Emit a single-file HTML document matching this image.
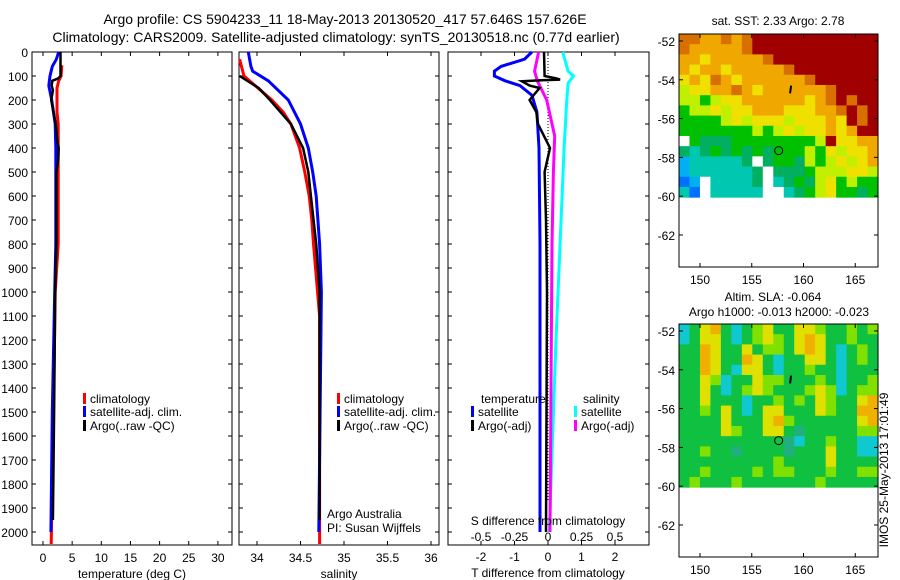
<!DOCTYPE html>
<html><head><meta charset="utf-8">
<style>
html,body{margin:0;padding:0;background:#fff;}
svg{display:block;font-family:"Liberation Sans",sans-serif;}
</style></head>
<body>
<svg id="fig" width="900" height="580" viewBox="0 0 900 580">
<text x="345" y="24" font-size="14" text-anchor="middle">Argo profile: CS 5904233_11 18-May-2013 20130520_417 57.646S 157.626E</text>
<text x="336" y="42" font-size="14" text-anchor="middle">Climatology: CARS2009. Satellite-adjusted climatology: synTS_20130518.nc (0.77d earlier)</text>
<text x="778" y="25" font-size="12" text-anchor="middle">sat. SST: 2.33 Argo: 2.78</text>
<text x="773" y="301" font-size="12" text-anchor="middle">Altim. SLA: -0.064</text>
<text x="779" y="316" font-size="12" text-anchor="middle">Argo h1000: -0.013 h2000: -0.023</text>
<text transform="translate(888,470) rotate(-90)" font-size="12" text-anchor="middle">IMOS 25-May-2013 17:01:49</text>
<g id="plots"></g>
</svg>
<script>
// ---------- data ----------
const depthTicks=[0,100,200,300,400,500,600,700,800,900,1000,1100,1200,1300,1400,1500,1600,1700,1800,1900,2000];
const tempTicks=[0,5,10,15,20,25,30];
const salTicks=[34,34.5,35,35.5,36];
const tdiffTicks=[-2,-1,0,1,2];
const sdiffTicks=[-0.5,-0.25,0,0.25,0.5];
const sdiffLabels=["-0.5","-0.25","0","0.25","0.5"];

const tClimD=[55,60,100,120,150,250,300,800,1000,1500,2050];
const tClimV=[3.3,3.2,3.1,2.7,2.4,2.4,2.6,2.6,2.1,1.8,1.4];
const tSatD=[0,30,60,100,140,200,300,400,800,1000,1500,2000];
const tSatV=[2.7,2.3,1.6,1.2,1.0,1.5,2.1,2.2,2.2,2.0,1.6,1.35];
const tArgoD=[0,100,110,120,140,160,200,250,300,380,400,450,500,800,1000,1500,1950];
const tArgoV=[3.0,3.0,2.6,1.6,1.5,1.7,1.4,1.8,2.2,2.5,2.7,2.6,2.3,2.3,2.1,1.9,1.7];

const sClimD=[30,100,150,200,250,300,400,500,600,700,800,1100,2050];
const sClimV=[33.8,33.85,34.01,34.17,34.3,34.39,34.49,34.55,34.6,34.63,34.65,34.72,34.72];
const sSatD=[0,60,80,120,200,300,400,500,600,800,1000,2000];
const sSatV=[33.9,33.93,33.95,34.13,34.36,34.5,34.59,34.64,34.68,34.72,34.74,34.71];
const sArgoD=[100,150,200,300,400,500,600,800,1000,1200,1950];
const sArgoV=[33.8,34.02,34.15,34.39,34.53,34.59,34.62,34.68,34.72,34.72,34.72];

const dTSatD=[0,30,60,80,100,120,140,180,250,400,800,2000];
const dTSatV=[-0.48,-0.7,-1.4,-1.6,-1.6,-1.28,-0.84,-0.48,-0.33,-0.27,-0.24,-0.24];
const dTArgoD=[0,100,110,115,118,122,140,150,200,250,300,400,500,700,1000,2000];
const dTArgoV=[-0.12,-0.1,0.24,0.36,-0.2,-0.78,-0.55,-0.25,-0.55,-0.35,-0.3,0.06,-0.1,-0.06,-0.03,-0.06];
const dSArgoD=[0,80,120,200,350,500,800,2000];
const dSArgoV=[-0.07,-0.1,-0.08,-0.01,0.05,0.04,0.03,0.015];
const dSSatD=[0,80,100,130,200,400,800,1200,2000];
const dSSatV=[0.11,0.15,0.19,0.15,0.14,0.12,0.09,0.06,0.01];

const mapLatTicks=[-52,-54,-56,-58,-60,-62];
const mapLonTicks=[150,155,160,165];
const sstRows=[
"ooOOoOoRRRRRRRRRRRR","oOOOOOoRRRRRRRRRRRR","OOYOOOOOoRRRRRRRRRR","OYOOYOOOOOoRRRRRRRR",
"YOYoOYOOOOOOoRRRRRR","LYYOOoOYOOOOOOoRRRR","LLGLYYOOOOOOYOoRoRR","GLLYLYYOOOYYYOOoRoR",
"GGGGLYLYYYLYYYOYRoR","GGGGGGGLGLYLYYOYORR","WGgggGGGGGGGGLRYYOO","gCgGgGgGgGGGLGYLYYO",
"BCCCCCgWgGGgLGLYLYO","BCCCCCCgWgggGLLLYYL","bBWCCCCgWCgGgLYGLGG","CbWCCCCCWWCgGLYGGgG"];
const slaRows=[
"CGYOGCGLYGGYYLGGLGL","CGYYGCGLYLGYOYGGLGG","GGOYGGYGLLGYOYGCGLG","GGOYGGOYGCGGYYGCGLG",
"GGOYGCYYGCGGLGGCGGG","GGYLCGGYLLGGGLGCGGL","GGYGCGLYLGGGLYLCGLL","GGYGGGCGGLGLGYLGGYO",
"GGLGYGCGYYGGGYLGGOO","GGGGYGGGYOLGGGGGGYO","GGGGYLGGYYGTGGGGGLL","GGGGGGGGGGTCGGLGGCC",
"GGLGGTGGGGTGGGYGGCC","GGGGGGGGGLGGGGYGGGG","GGLGGGGLGLLGGGLGGLL","GLGGGLGGGGGGGLGGGGG"];
const argoLon=157.6, argoLat=-57.65;

// ---------- drawing ----------
const NS="http://www.w3.org/2000/svg";
const root=document.getElementById('plots');
function mk(tag,attrs,parent){const e=document.createElementNS(NS,tag);for(const k in attrs)e.setAttribute(k,attrs[k]);(parent||root).appendChild(e);return e;}
const yD=d=>52+d*0.24;
const yTop=52,yBot=545;

function frame(x0,x1,name){
  const r=mk('rect',{x:x0,y:yTop,width:x1-x0,height:yBot-yTop,fill:'none',stroke:'#000','stroke-width':1});
  
  
  depthTicks.forEach(d=>{const y=yD(d);
    mk('line',{x1:x0,x2:x0+4,y1:y,y2:y,stroke:'#000'});
    mk('line',{x1:x1-4,x2:x1,y1:y,y2:y,stroke:'#000'});});
}
function xticks(vals,labels,fx,ty,name){
  vals.forEach((v,i)=>{const x=fx(v);
    mk('line',{x1:x,x2:x,y1:yBot,y2:yBot-4,stroke:'#000'});
    mk('line',{x1:x,x2:x,y1:yTop,y2:yTop+4,stroke:'#000'});
    const t=mk('text',{x:x,y:ty,'font-size':12,'text-anchor':'middle'});t.textContent=labels[i];
    
    });
}
function line(ds,vs,fx,color,name,w){
  const p=ds.map((d,i)=>fx(vs[i]).toFixed(1)+','+yD(d).toFixed(1)).join(' ');
  const e=mk('polyline',{points:p,fill:'none',stroke:color,'stroke-width':w||3,'stroke-linejoin':'miter'});
  
  
}
function txt(x,y,s,name,anchor,size){const t=mk('text',{x:x,y:y,'font-size':size||12,'text-anchor':anchor||'start'});t.textContent=s;
  
  return t;}
function legend(mx,y,color,label,name){mk('rect',{x:mx,y:y-10,width:3,height:11,fill:color});txt(mx+7,y,label,name);}

// panel 1 temperature
const fT=v=>43+v*5.83;
frame(32,232,'temperature-panel-frame');
depthTicks.forEach(d=>{txt(28,yD(d)+5,String(d),'depth-tick-label','end',12);});
xticks(tempTicks,tempTicks.map(String),fT,562,'temperature-tick-label');
txt(132,578,'temperature (deg C)','temperature-axis-title','middle');
line(tClimD,tClimV,fT,'#f00','temp-climatology-line');
line(tSatD,tSatV,fT,'#00f','temp-satellite-line');
line(tArgoD,tArgoV,fT,'#000','temp-argo-line',2.5);
legend(83,403,'#f00','climatology','legend-climatology');
legend(83,416,'#00f','satellite-adj. clim.','legend-satellite');
legend(83,430,'#000','Argo(..raw -QC)','legend-argo');

// panel 2 salinity
const fS=v=>257+(v-34)*87;
frame(239,439,'salinity-panel-frame');
xticks(salTicks,["34","34.5","35","35.5","36"],fS,562,'salinity-tick-label');
txt(339,578,'salinity','salinity-axis-title','middle');
line(sClimD,sClimV,fS,'#f00','sal-climatology-line');
line(sSatD,sSatV,fS,'#00f','sal-satellite-line');
line(sArgoD,sArgoV,fS,'#000','sal-argo-line',2.5);
legend(337,403,'#f00','climatology','legend-climatology-2');
legend(337,416,'#00f','satellite-adj. clim.','legend-satellite-2');
legend(337,430,'#000','Argo(..raw -QC)','legend-argo-2');
txt(327,518,'Argo Australia','pi-institution');
txt(327,532,'PI: Susan Wijffels','pi-name');

// panel 3 differences
const fdT=v=>548+v*33.5, fdS=v=>548+v*134;
frame(448,649,'difference-panel-frame');
xticks(tdiffTicks,tdiffTicks.map(String),fdT,561,'tdiff-tick-label');
sdiffTicks.forEach((v,i)=>txt(fdS(v),541,sdiffLabels[i],'sdiff-tick-label','middle'));
mk('line',{x1:548,x2:548,y1:yTop,y2:500,stroke:'#000','stroke-dasharray':'1,2'});
line(dSSatD,dSSatV,fdS,'#0ff','sdiff-satellite-line');
line(dSArgoD,dSArgoV,fdS,'#f0f','sdiff-argo-line');
line(dTSatD,dTSatV,fdT,'#00f','tdiff-satellite-line');
line(dTArgoD,dTArgoV,fdT,'#000','tdiff-argo-line',2.5);
txt(548,525,'S difference from climatology','sdiff-axis-title','middle');
txt(548,577,'T difference from climatology','tdiff-axis-title','middle');
txt(481,403,'temperature','legend-temperature-header');
txt(583,403,'salinity','legend-salinity-header');
legend(471,416,'#00f','satellite','legend-tdiff-satellite');
legend(471,430,'#000','Argo(-adj)','legend-tdiff-argo');
legend(574,416,'#0ff','satellite','legend-sdiff-satellite');
legend(574,430,'#f0f','Argo(-adj)','legend-sdiff-argo');

// maps
const sstCol={R:'#a00000',o:'#d87000',O:'#f0a800',Y:'#f0e000',L:'#c0f000',G:'#00c000',g:'#00b060',C:'#00c8b0',B:'#00b0f0',b:'#0070ff',W:'#ffffff'};
const slaCol={G:'#10c040',L:'#80e000',Y:'#e0e000',O:'#f0b000',C:'#10c8d0',T:'#20b080'};
function map(y0,rows,cols,name){
  const x0=679,x1=878,y1=y0+233;
  const fx=lon=>x0+(lon-147.97)*10.35;
  const fy=lat=>y0+(-51.64-lat)*19.4;
  const nr=rows.length, latTop=-51.64, latBot=-60.05, lonL=147.97, lonR=167.2;
  const nc=rows[0].length;
  const g=mk('g',{});
  
  
  rows.forEach((r,i)=>{for(let j=0;j<nc;j++){
    const la=latTop+(latBot-latTop)*i/nr, lb=latTop+(latBot-latTop)*(i+1)/nr;
    const lo=lonL+(lonR-lonL)*j/nc, lo2=lonL+(lonR-lonL)*(j+1)/nc;
    const c=mk('rect',{x:fx(lo),y:fy(la),width:fx(lo2)-fx(lo)+0.5,height:fy(lb)-fy(la)+0.5,fill:cols[r[j]]},g);
    
    
  }});
  mk('rect',{x:x0,y:y0,width:x1-x0,height:y1-y0,fill:'none',stroke:'#000'});
  mapLatTicks.forEach(l=>{const y=fy(l);mk('line',{x1:x0,x2:x0+4,y1:y,y2:y,stroke:'#000'});mk('line',{x1:x1-4,x2:x1,y1:y,y2:y,stroke:'#000'});txt(675,y+5,String(l),'map-lat-label','end');});
  mapLonTicks.forEach(l=>{const x=fx(l);mk('line',{x1:x,x2:x,y1:y1,y2:y1-4,stroke:'#000'});mk('line',{x1:x,x2:x,y1:y0,y2:y0+4,stroke:'#000'});txt(x,y1+17,String(l),'map-lon-label','middle');});
  const c=mk('circle',{cx:fx(argoLon),cy:fy(argoLat),r:4,fill:'none',stroke:'#000'});
  
  
  mk('line',{x1:fx(158.8),x2:fx(158.7),y1:fy(-54.3),y2:fy(-54.7),stroke:'#000','stroke-width':2});
}
map(34,sstRows,sstCol,'sst-map');
map(324,slaRows,slaCol,'sla-map');
</script>
</body></html>
